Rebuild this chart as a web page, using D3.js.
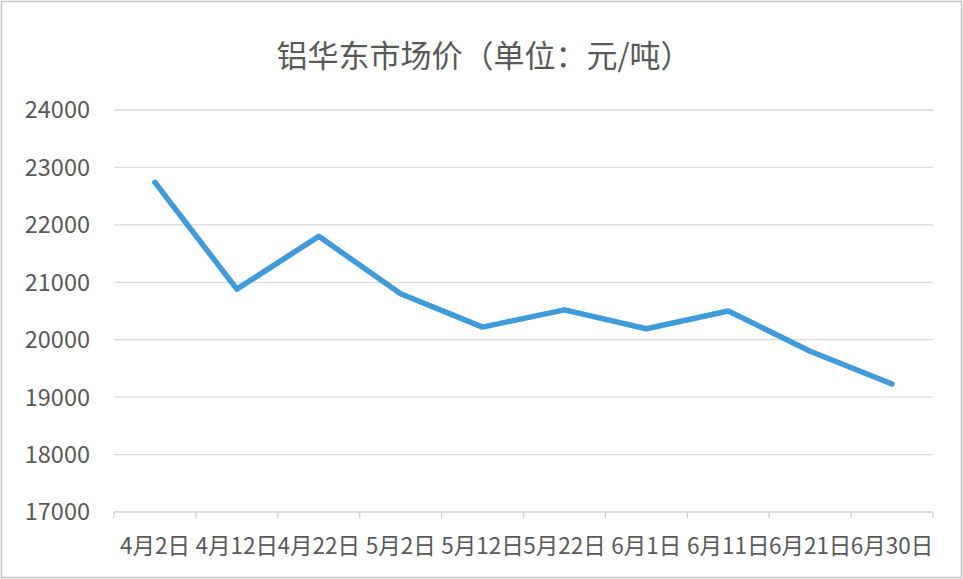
<!DOCTYPE html>
<meta charset="utf-8">
<style>
  body { margin: 0; background: #fff; }
  text { font-family: "Noto Sans CJK SC", "Microsoft YaHei", sans-serif; fill: #595959; }
  .grid line { stroke: #d9d9d9; stroke-width: 1.3; }
</style>
<body>
<script src="https://d3js.org/d3.v7.min.js"></script>
<script>
var dates = ['4月2日', '4月12日', '4月22日', '5月2日', '5月12日', '5月22日', '6月1日', '6月11日', '6月21日', '6月30日'];
var prices = [22740, 20880, 21800, 20800, 20220, 20520, 20190, 20500, 19800, 19230];
var yTicks = [17000, 18000, 19000, 20000, 21000, 22000, 23000, 24000];
var title = '铝华东市场价（单位：元/吨）';

var width = 963, height = 579;

var svg = d3.select('body').append('svg')
    .attr('width', width)
    .attr('height', height);

// outer frame
svg.append('rect')
    .attr('x', 1.5).attr('y', 1.5)
    .attr('width', width - 3).attr('height', height - 3)
    .attr('fill', '#fff')
    .attr('stroke', '#c4c4c4')
    .attr('stroke-width', 1.5);

var x = d3.scaleBand()
    .domain(dates)
    .range([114, 933])
    .padding(0);

var y = d3.scaleLinear()
    .domain([17000, 24000])
    .range([512, 110]);

svg.append('text')
    .attr('x', 484)
    .attr('y', 67)
    .attr('text-anchor', 'middle')
    .style('font-size', '31px')
    .text(title);

// gridlines
svg.append('g')
    .attr('class', 'grid')
  .selectAll('line')
    .data(yTicks.slice(1))
  .enter().append('line')
    .attr('x1', 114).attr('x2', 933)
    .attr('y1', function (d) { return y(d); })
    .attr('y2', function (d) { return y(d); });

// y labels
svg.append('g')
  .selectAll('text')
    .data(yTicks)
  .enter().append('text')
    .attr('x', 90)
    .attr('y', function (d) { return y(d); })
    .attr('dy', '0.36em')
    .attr('text-anchor', 'end')
    .style('font-size', '23.5px')
    .text(function (d) { return d; });

// x axis
var gx = svg.append('g')
    .attr('transform', 'translate(0,' + y(17000) + ')');

gx.append('line')
    .attr('x1', 114).attr('x2', 933)
    .attr('stroke', '#d0d0d0')
    .attr('stroke-width', 1.3);

gx.selectAll('line.tk')
    .data(dates.concat(['end']))
  .enter().append('line')
    .attr('class', 'tk')
    .attr('x1', function (d, i) { return 114 + i * x.bandwidth(); })
    .attr('x2', function (d, i) { return 114 + i * x.bandwidth(); })
    .attr('y1', 0).attr('y2', 6)
    .attr('stroke', '#d0d0d0')
    .attr('stroke-width', 1.3);

gx.selectAll('text.lb')
    .data(dates)
  .enter().append('text')
    .attr('class', 'lb')
    .attr('x', function (d) { return x(d) + x.bandwidth() / 2; })
    .attr('y', 42)
    .attr('text-anchor', 'middle')
    .style('font-size', '22.5px')
    .text(function (d) { return d; });

var line = d3.line()
    .x(function (d, i) { return x(dates[i]) + x.bandwidth() / 2; })
    .y(function (d) { return y(d); });

svg.append('path')
    .datum(prices)
    .attr('d', line)
    .attr('fill', 'none')
    .attr('stroke', '#3f9bd9')
    .attr('stroke-width', 5.5)
    .attr('stroke-linejoin', 'round')
    .attr('stroke-linecap', 'round');
</script>
</body>
